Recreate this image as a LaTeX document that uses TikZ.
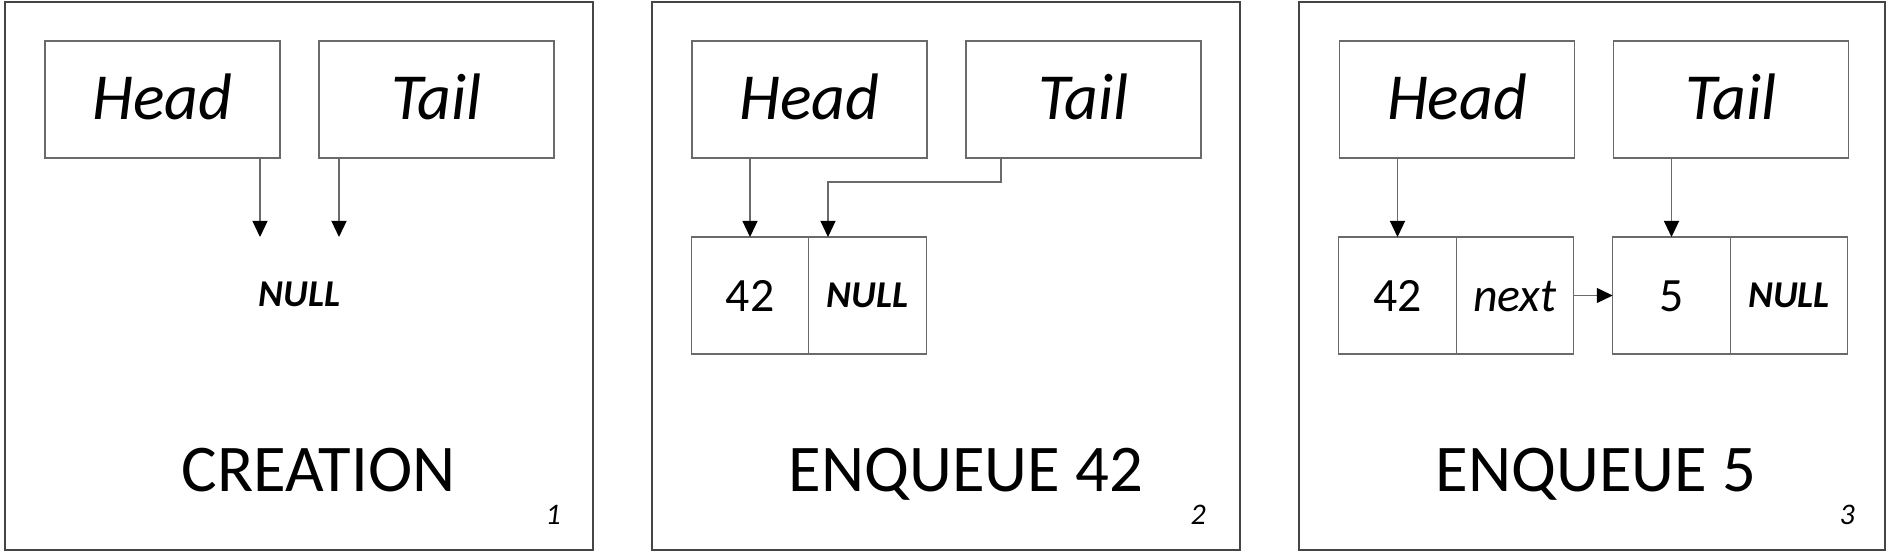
\documentclass[tikz,border=0pt]{standalone}
\usepackage{fontspec}
\setmainfont{Carlito}
\usepackage{xcolor}
\usepackage{tikz}
\usetikzlibrary{arrows.meta,positioning}
\definecolor{framegray}{HTML}{454545}
\definecolor{linegray}{HTML}{6A6A6A}
\tikzset{
  panel/.style={draw=framegray,line width=1.5bp},
  ptrbox/.style={draw=linegray,line width=1.2bp,minimum width=235bp,minimum height=117bp,
    inner sep=0pt,outer sep=0pt,font=\fontsize{66}{66}\selectfont\itshape,
    text height=41bp,text depth=0bp},
  cell/.style={draw=linegray,line width=1.2bp,minimum width=117.5bp,minimum height=117bp,
    inner sep=0pt,outer sep=0pt,font=\fontsize{48}{48}\selectfont,
    text height=31bp,text depth=0bp},
  nullcell/.style={cell,font=\fontsize{38}{38}\selectfont\bfseries\itshape,text height=24bp},
  nulltext/.style={inner sep=0pt,font=\fontsize{38}{38}\selectfont\bfseries\itshape,
    text height=24bp,text depth=0bp},
  caption/.style={anchor=base,inner sep=0pt,font=\fontsize{67}{67}\selectfont},
  stepno/.style={anchor=base east,inner sep=0pt,font=\fontsize{30}{30}\selectfont\itshape},
  ptr/.style={-{Triangle[length=16bp,width=15bp,color=black]},draw=linegray,line width=1.2bp}
}
\begin{document}
\begin{tikzpicture}[x=1bp,y=-1bp,node distance=39bp]
\useasboundingbox (0,0) rectangle (1892,552);

% 1: creation
\draw[panel] (5,2) rectangle (593,550);
\node[ptrbox] (head1) at (162.5,99.5) {Head};
\node[ptrbox, right=of head1] (tail1) {Tail};
\node[nulltext] (null1) at (299.5,294) {NULL};
\coordinate (hp1) at (260,237);
\coordinate (tp1) at (339,237);
\draw[ptr] (hp1 |- head1.south) -- (hp1);
\draw[ptr] (tp1 |- tail1.south) -- (tp1);
\node[caption] (title1) at (318.5,491) {CREATION};
\node[stepno] (num1) at (561,524) {1};

% 2: enqueue 42
\draw[panel] (652,2) rectangle (1240,550);
\node[ptrbox] (head2) at (809.5,99.5) {Head};
\node[ptrbox, right=of head2] (tail2) {Tail};
\node[cell] (val2) at (750,295.5) {42};
\node[nullcell, right=0bp of val2] (nil2) {NULL};
\coordinate (tbend2) at (1001,182);
\coordinate (tdrop2) at (828,182);
\draw[ptr] (head2.south -| val2.north) -- (val2.north);
\draw[ptr] (tail2.south -| tbend2) -- (tbend2) -- (tdrop2) -- (tdrop2 |- nil2.north);
\node[caption] (title2) at (966,491) {ENQUEUE 42};
\node[stepno] (num2) at (1206,524) {2};

% 3: enqueue 5
\draw[panel] (1299,2) rectangle (1885,550);
\node[ptrbox] (head3) at (1457,99.5) {Head};
\node[ptrbox, right=of head3] (tail3) {Tail};
\node[cell] (val3a) at (1397.5,295.5) {42};
\node[cell, right=0bp of val3a] (next3) {\itshape next};
\node[cell, right=of next3] (val3b) {5};
\node[nullcell, right=0bp of val3b] (nil3) {NULL};
\draw[ptr] (head3.south -| val3a.north) -- (val3a.north);
\draw[ptr] (tail3.south -| val3b.north) -- (val3b.north);
\draw[ptr] (next3.east) -- (val3b.west);
\node[caption] (title3) at (1596,491) {ENQUEUE 5};
\node[stepno] (num3) at (1855,524) {3};
\end{tikzpicture}
\end{document}
